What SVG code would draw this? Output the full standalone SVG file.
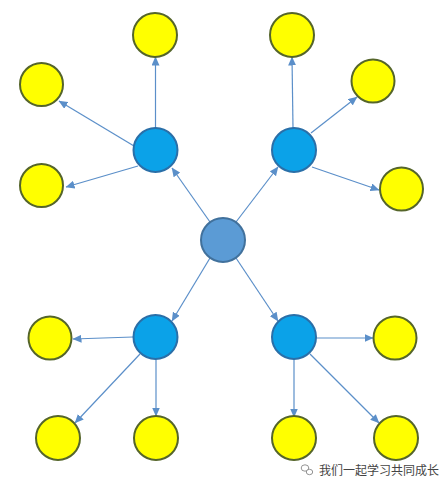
<svg xmlns="http://www.w3.org/2000/svg" width="441" height="489" viewBox="0 0 441 489">
<defs>
<marker id="ah" markerUnits="userSpaceOnUse" markerWidth="9" markerHeight="8" refX="8.5" refY="4" orient="auto">
<path d="M0,0 L9,4 L0,8 z" fill="#5B8FC9"/>
</marker>
<style>
.y{fill:#FFFF00;stroke:#55652A;stroke-width:2}
.b{fill:#0BA2E8;stroke:#2A6FA8;stroke-width:2}
.c{fill:#5B9BD5;stroke:#41719C;stroke-width:2}
.e{stroke:#5B8FC9;stroke-width:1.2;fill:none;marker-end:url(#ah)}
.t{font-family:"Noto Sans CJK SC","Noto Sans",sans-serif;font-size:12px;fill:#444}
</style>
</defs>
<rect width="441" height="489" fill="#fff"/>
<g id="connectors">
<line class="e" x1="210" y1="222" x2="172" y2="168"/>
<line class="e" x1="236" y1="222" x2="278" y2="167"/>
<line class="e" x1="210" y1="258" x2="172" y2="321"/>
<line class="e" x1="236" y1="258" x2="278" y2="321"/>
<line class="e" x1="155.5" y1="128" x2="155.5" y2="57"/>
<line class="e" x1="134" y1="146" x2="59" y2="101"/>
<line class="e" x1="138" y1="166" x2="66" y2="187"/>
<line class="e" x1="293" y1="128" x2="292" y2="57"/>
<line class="e" x1="311" y1="133" x2="357" y2="97"/>
<line class="e" x1="312" y1="167" x2="379" y2="190"/>
<line class="e" x1="133" y1="337" x2="73" y2="339"/>
<line class="e" x1="140" y1="354" x2="75" y2="423"/>
<line class="e" x1="156" y1="359" x2="156" y2="416"/>
<line class="e" x1="316" y1="338" x2="373" y2="338"/>
<line class="e" x1="294" y1="359" x2="294" y2="417"/>
<line class="e" x1="310" y1="354" x2="379" y2="423"/>
</g>
<g id="center"><circle class="c" cx="223" cy="240" r="22"/></g>
<g id="tl"><circle class="b" cx="155.5" cy="150" r="22"/></g>
<g id="tr"><circle class="b" cx="294" cy="150" r="22"/></g>
<g id="bl"><circle class="b" cx="155.5" cy="337" r="22"/></g>
<g id="br"><circle class="b" cx="294" cy="337" r="22"/></g>
<g id="y1"><circle class="y" cx="155" cy="35" r="22"/></g>
<g id="y2"><circle class="y" cx="41.5" cy="84.5" r="21.5"/></g>
<g id="y3"><circle class="y" cx="41.5" cy="185.5" r="21.5"/></g>
<g id="y4"><circle class="y" cx="292" cy="35" r="22"/></g>
<g id="y5"><circle class="y" cx="373" cy="81" r="21.5"/></g>
<g id="y6"><circle class="y" cx="401.5" cy="189" r="21.5"/></g>
<g id="y7"><circle class="y" cx="50" cy="338" r="21.5"/></g>
<g id="y8"><circle class="y" cx="58" cy="438" r="22"/></g>
<g id="y9"><circle class="y" cx="156" cy="438" r="22"/></g>
<g id="y10"><circle class="y" cx="395" cy="338" r="21.5"/></g>
<g id="y11"><circle class="y" cx="294" cy="438" r="22"/></g>
<g id="y12"><circle class="y" cx="396" cy="438" r="22"/></g>
<g id="watermark">
<ellipse cx="305" cy="468" rx="3.8" ry="3.2" fill="none" stroke="#888" stroke-width="0.9"/>
<ellipse cx="309.5" cy="472" rx="3.2" ry="2.7" fill="#fff" stroke="#888" stroke-width="0.9"/>
<text class="t" x="319" y="475">我们一起学习共同成长</text>
</g>
</svg>
